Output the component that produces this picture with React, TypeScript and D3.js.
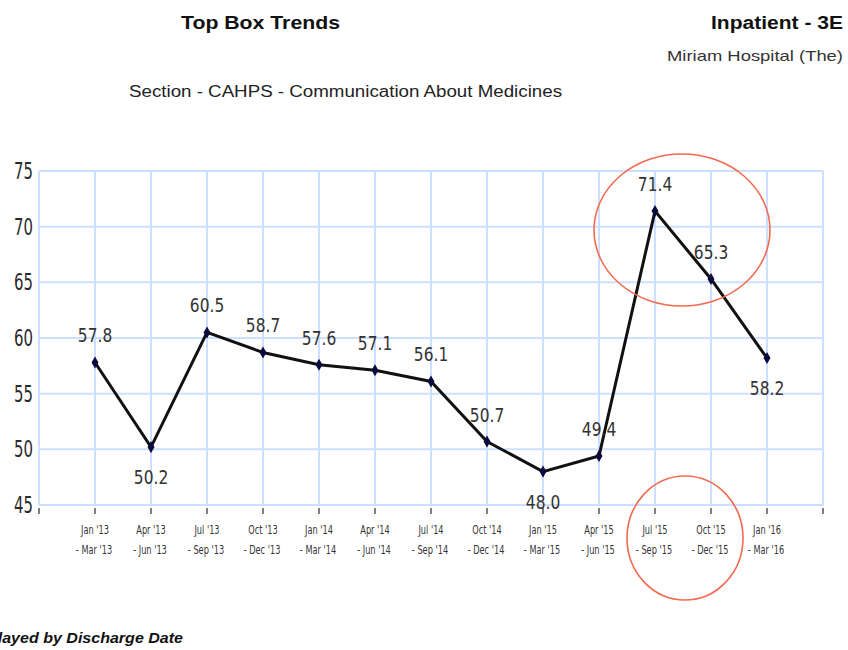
import React from 'react';
import * as d3 from 'd3';

const periods = [
  ["Jan '13", "- Mar '13"],
  ["Apr '13", "- Jun '13"],
  ["Jul '13", "- Sep '13"],
  ["Oct '13", "- Dec '13"],
  ["Jan '14", "- Mar '14"],
  ["Apr '14", "- Jun '14"],
  ["Jul '14", "- Sep '14"],
  ["Oct '14", "- Dec '14"],
  ["Jan '15", "- Mar '15"],
  ["Apr '15", "- Jun '15"],
  ["Jul '15", "- Sep '15"],
  ["Oct '15", "- Dec '15"],
  ["Jan '16", "- Mar '16"],
];
const topBox = [57.8, 50.2, 60.5, 58.7, 57.6, 57.1, 56.1, 50.7, 48.0, 49.4, 71.4, 65.3, 58.2];
const yTicks = [45, 50, 55, 60, 65, 70, 75];

const COND = '"DejaVu Sans Condensed", "DejaVu Sans", sans-serif';
const ARIAL = 'Arial, "Liberation Sans", sans-serif';

// squeezed text, the source picture uses a tall narrow face
function Narrow({ x, y, sx, children, ...rest }: any) {
  return (
    <text transform={`translate(${x},${y}) scale(${sx},1)`} {...rest}>
      {children}
    </text>
  );
}

export default function App() {
  const width = 848;
  const height = 650;
  const left = 39;
  const right = 823;
  const top = 171;
  const bottom = 505;

  const keys = periods.map((p) => p.join(' '));
  const x = d3.scalePoint<string>().domain(keys).range([left, right]).padding(1);
  const y = d3.scaleLinear().domain([45, 75]).range([bottom, top]);

  const gridX = [left, ...keys.map((k) => x(k) as number), right];

  const line = d3
    .line<number>()
    .x((_, i) => x(keys[i]) as number)
    .y((d) => y(d));

  // label below the point when it's a local low
  const below = (i: number) => {
    const v = topBox[i];
    const prev = i > 0 ? topBox[i - 1] : Infinity;
    const next = i < topBox.length - 1 ? topBox[i + 1] : Infinity;
    return v < prev && v < next;
  };

  const diamond = d3.symbol().type(d3.symbolDiamond).size(42)();

  return (
    <svg width={width} height={height} style={{ position: 'absolute', left: 0, top: 0 }}>
      <rect width={width} height={height} fill="#fff" />

      {/* headers */}
      <g fontFamily={ARIAL} fill="#111">
        <text x={181} y={29} fontSize={18} fontWeight="bold" textLength={159} lengthAdjust="spacingAndGlyphs">
          Top Box Trends
        </text>
        <text x={711} y={29} fontSize={18} fontWeight="bold" textLength={132} lengthAdjust="spacingAndGlyphs">
          Inpatient - 3E
        </text>
        <text x={667} y={61} fontSize={15} fill="#333" textLength={176} lengthAdjust="spacingAndGlyphs">
          Miriam Hospital (The)
        </text>
        <text x={129} y={97} fontSize={16} fill="#222" textLength={433} lengthAdjust="spacingAndGlyphs">
          Section - CAHPS - Communication About Medicines
        </text>
        {/* cropped at the left edge in the source too */}
        <text x={-37} y={643} fontSize={14} fontWeight="bold" fontStyle="italic" textLength={220} lengthAdjust="spacingAndGlyphs">
          Displayed by Discharge Date
        </text>
      </g>

      {/* grid */}
      <g stroke="#cddfff" strokeWidth={2}>
        {yTicks.map((t) => (
          <line key={t} x1={left} x2={right} y1={y(t)} y2={y(t)} />
        ))}
        {gridX.map((gx, i) => (
          <line key={i} x1={gx} x2={gx} y1={top} y2={bottom} />
        ))}
      </g>

      {/* tick marks */}
      <g stroke="#555" strokeWidth={1.5}>
        {gridX.map((gx, i) => (
          <line key={i} x1={gx} x2={gx} y1={bottom + 3} y2={bottom + 9} />
        ))}
      </g>

      {/* y labels */}
      <g fontFamily={COND} fontSize={23} fill="#2a2a2a" textAnchor="end">
        {yTicks.map((t) => (
          <Narrow key={t} x={33} y={y(t) + 8} sx={0.72}>{t}</Narrow>
        ))}
      </g>

      {/* x labels */}
      <g fontFamily={COND} fontSize={12} fill="#333" textAnchor="middle">
        {periods.map((p, i) => (
          <g key={i}>
            <Narrow x={x(keys[i]) as number} y={534} sx={0.76}>{p[0]}</Narrow>
            <Narrow x={(x(keys[i]) as number) - 1} y={554} sx={0.76}>{p[1]}</Narrow>
          </g>
        ))}
      </g>

      {/* series */}
      <path d={line(topBox) || ''} fill="none" stroke="#111" strokeWidth={3} />
      {topBox.map((v, i) => (
        <path key={i} d={diamond || ''} transform={`translate(${x(keys[i])},${y(v)})`} fill="#0a0a40" />
      ))}
      <g fontFamily={COND} fontSize={20} fill="#333" textAnchor="middle">
        {topBox.map((v, i) => (
          <Narrow key={i} x={x(keys[i]) as number} y={below(i) ? y(v) + 37 : y(v) - 20} sx={0.86}>
            {v.toFixed(1)}
          </Narrow>
        ))}
      </g>

      {/* highlight circles */}
      <g fill="none" stroke="#f26a50" strokeWidth={1.6}>
        <ellipse cx={682} cy={230} rx={88} ry={76} />
        <ellipse cx={685} cy={538} rx={58} ry={62} />
      </g>
    </svg>
  );
}
